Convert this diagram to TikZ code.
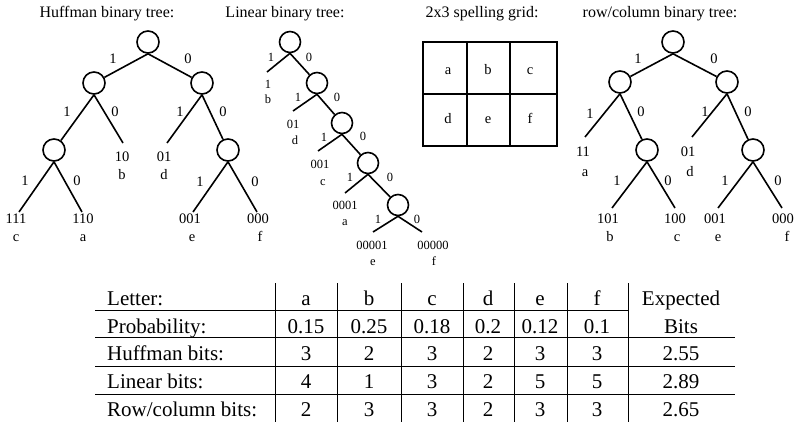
\documentclass[tikz,border=0pt]{standalone}
\usepackage{fontspec}
\setmainfont{Liberation Serif}
\begin{document}
\begin{tikzpicture}[x=1pt,y=-1pt,
  nd/.style={circle,draw,line width=1.6pt,minimum size=22pt,inner sep=0pt},
  snd/.style={nd,minimum size=21pt},
  lbl/.style={inner sep=0pt,text height=0.68em,text depth=0pt,font=\fontsize{14.5}{16}\selectfont},
  slbl/.style={inner sep=0pt,text height=0.68em,text depth=0pt,font=\fontsize{12.5}{14}\selectfont},
  ttl/.style={inner sep=0pt,font=\fontsize{16}{18}\selectfont},
  tb/.style={inner sep=0pt,anchor=base,font=\fontsize{21}{24}\selectfont},
  ed/.style={line width=1.6pt},
  tl/.style={line width=1pt}]
\useasboundingbox (0,0) rectangle (800,428);

% titles
\node[ttl] (t1) at (107,14) {Huffman binary tree:};
\node[ttl] (t2) at (285,14) {Linear binary tree:};
\node[ttl] (t3) at (482,14) {2x3 spelling grid:};
\node[ttl] (t4) at (660,14) {row/column binary tree:};

% ---------- Huffman tree
\node[nd] (h0) at (148,42) {};
\node[nd] (h1) at (94,83) {};
\node[nd] (h2) at (202,83) {};
\node[nd] (h11) at (54,150) {};
\node[nd] (h22) at (228,150) {};
\coordinate (hb) at (123,143);
\coordinate (hd) at (167,143);
\coordinate (hc) at (19,212);
\coordinate (ha) at (82,212);
\coordinate (he) at (193,212);
\coordinate (hf) at (257,212);
\draw[ed] (h0.south) -- (h1);
\draw[ed] (h0.south) -- (h2);
\draw[ed] (h1.south) -- (h11);
\draw[ed] (h1.south) -- (hb);
\draw[ed] (h2.south) -- (hd);
\draw[ed] (h2.south) -- (h22);
\draw[ed] (h11.south) -- (hc);
\draw[ed] (h11.south) -- (ha);
\draw[ed] (h22.south) -- (he);
\draw[ed] (h22.south) -- (hf);
\node[lbl] (he1) at (113,60) {1};
\node[lbl] (he2) at (188,60) {0};
\node[lbl] (he3) at (67,113) {1};
\node[lbl] (he4) at (115,113) {0};
\node[lbl] (he5) at (180,113) {1};
\node[lbl] (he6) at (223,113) {0};
\node[lbl] (he7) at (25,182) {1};
\node[lbl] (he8) at (77,182) {0};
\node[lbl] (he9) at (200,183) {1};
\node[lbl] (he10) at (255,183) {0};
\node[lbl] (hbc) at (122,158) {10};
\node[lbl] (hbl) at (122,176) {b};
\node[lbl] (hdc) at (164,158) {01};
\node[lbl] (hdl) at (164,176) {d};
\node[lbl] (hcc) at (16,220) {111};
\node[lbl] (hcl) at (16,238) {c};
\node[lbl] (hac) at (83,220) {110};
\node[lbl] (hal) at (83,238) {a};
\node[lbl] (hec) at (190,220) {001};
\node[lbl] (hel) at (192,238) {e};
\node[lbl] (hfc) at (258,220) {000};
\node[lbl] (hfl) at (260,238) {f};

% ---------- Linear tree
\node[snd] (l0) at (290,42) {};
\node[snd] (l1) at (317,83) {};
\node[snd] (l2) at (342,123) {};
\node[snd] (l3) at (368,163) {};
\node[snd] (l4) at (398,205) {};
\coordinate (lb) at (267,72);
\coordinate (ld) at (293,111);
\coordinate (lc) at (318,151);
\coordinate (la) at (345,193);
\coordinate (le) at (373,232);
\coordinate (lf) at (422,232);
\draw[ed] (l0.south) -- (lb);
\draw[ed] (l0.south) -- (l1);
\draw[ed] (l1.south) -- (ld);
\draw[ed] (l1.south) -- (l2);
\draw[ed] (l2.south) -- (lc);
\draw[ed] (l2.south) -- (l3);
\draw[ed] (l3.south) -- (la);
\draw[ed] (l3.south) -- (l4);
\draw[ed] (l4.south) -- (le);
\draw[ed] (l4.south) -- (lf);
\node[slbl] (le1) at (271,58) {1};
\node[slbl] (le2) at (309,58) {0};
\node[slbl] (le3) at (298,98) {1};
\node[slbl] (le4) at (337,98) {0};
\node[slbl] (le5) at (324,138) {1};
\node[slbl] (le6) at (363,137) {0};
\node[slbl] (le7) at (350,178) {1};
\node[slbl] (le8) at (390,178) {0};
\node[slbl] (le9) at (378,220) {1};
\node[slbl] (le10) at (417,220) {0};
\node[slbl] (lbc) at (268,85) {1};
\node[slbl] (lbl) at (268,100) {b};
\node[slbl] (ldc) at (293,125) {01};
\node[slbl] (ldl) at (295,141) {d};
\node[slbl] (lcc) at (320,165) {001};
\node[slbl] (lcl) at (323,182) {c};
\node[slbl] (lac) at (345,206) {0001};
\node[slbl] (lal) at (345,222) {a};
\node[slbl] (lec) at (372,246) {00001};
\node[slbl] (lel) at (373,262) {e};
\node[slbl] (lfc) at (433,246) {00000};
\node[slbl] (lfl) at (434,262) {f};

% ---------- Grid
\draw[ed] (423,42) rectangle (557,146);
\draw[ed] (467,42) -- (467,146);
\draw[ed] (510,42) -- (510,146);
\draw[ed] (423,94) -- (557,94);
\node[lbl] (ga) at (448,71) {a};
\node[lbl] (gb) at (488,71) {b};
\node[lbl] (gc) at (530,71) {c};
\node[lbl] (gd) at (448,120) {d};
\node[lbl] (ge) at (488,120) {e};
\node[lbl] (gf) at (530,120) {f};

% ---------- Row/column tree
\node[nd] (r0) at (673,42) {};
\node[nd] (r1) at (620,82) {};
\node[nd] (r2) at (727,82) {};
\node[nd] (r12) at (647,150) {};
\node[nd] (r22) at (753,150) {};
\coordinate (ra) at (585,137);
\coordinate (rd) at (692,137);
\coordinate (rb) at (612,208);
\coordinate (rc) at (675,208);
\coordinate (re) at (718,208);
\coordinate (rf) at (782,208);
\draw[ed] (r0.south) -- (r1);
\draw[ed] (r0.south) -- (r2);
\draw[ed] (r1.south) -- (ra);
\draw[ed] (r1.south) -- (r12);
\draw[ed] (r2.south) -- (rd);
\draw[ed] (r2.south) -- (r22);
\draw[ed] (r12.south) -- (rb);
\draw[ed] (r12.south) -- (rc);
\draw[ed] (r22.south) -- (re);
\draw[ed] (r22.south) -- (rf);
\node[lbl] (re1) at (638,60) {1};
\node[lbl] (re2) at (714,60) {0};
\node[lbl] (re3) at (590,115) {1};
\node[lbl] (re4) at (641,113) {0};
\node[lbl] (re5) at (705,113) {1};
\node[lbl] (re6) at (748,113) {0};
\node[lbl] (re7) at (617,182) {1};
\node[lbl] (re8) at (668,182) {0};
\node[lbl] (re9) at (725,182) {1};
\node[lbl] (re10) at (778,182) {0};
\node[lbl] (rac) at (583,153) {11};
\node[lbl] (ral) at (585,173) {a};
\node[lbl] (rdc) at (688,153) {01};
\node[lbl] (rdl) at (690,173) {d};
\node[lbl] (rbc) at (608,220) {101};
\node[lbl] (rbl) at (610,238) {b};
\node[lbl] (rcc) at (675,220) {100};
\node[lbl] (rcl) at (677,238) {c};
\node[lbl] (rec) at (715,220) {001};
\node[lbl] (rel) at (718,238) {e};
\node[lbl] (rfc) at (783,220) {000};
\node[lbl] (rfl) at (787,238) {f};

% ---------- Table
\foreach \x in {275,337,401,463,514,567,628}
  \draw[tl] (\x,283) -- (\x,422);
\draw[tl] (95,310) -- (628,310);
\foreach \y in {337,366,394}
  \draw[tl] (95,\y) -- (735,\y);
\node[tb,anchor=base west] (r1h) at (107,305) {Letter:};
\node[tb,anchor=base west] (r2h) at (107,333) {Probability:};
\node[tb,anchor=base west] (r3h) at (107,360) {Huffman bits:};
\node[tb,anchor=base west] (r4h) at (107,388) {Linear bits:};
\node[tb,anchor=base west] (r5h) at (107,416) {Row/column bits:};
\node[tb] (c1a) at (306,305) {a};
\node[tb] (c1b) at (369,305) {b};
\node[tb] (c1c) at (432,305) {c};
\node[tb] (c1d) at (488,305) {d};
\node[tb] (c1e) at (540,305) {e};
\node[tb] (c1f) at (597,305) {f};
\node[tb] (c1x) at (681,305) {Expected};
\node[tb] (c2a) at (306,333) {0.15};
\node[tb] (c2b) at (369,333) {0.25};
\node[tb] (c2c) at (432,333) {0.18};
\node[tb] (c2d) at (488,333) {0.2};
\node[tb] (c2e) at (540,333) {0.12};
\node[tb] (c2f) at (597,333) {0.1};
\node[tb] (c2x) at (681,333) {Bits};
\node[tb] (c3a) at (306,360) {3};
\node[tb] (c3b) at (369,360) {2};
\node[tb] (c3c) at (432,360) {3};
\node[tb] (c3d) at (488,360) {2};
\node[tb] (c3e) at (540,360) {3};
\node[tb] (c3f) at (597,360) {3};
\node[tb] (c3x) at (681,360) {2.55};
\node[tb] (c4a) at (306,388) {4};
\node[tb] (c4b) at (369,388) {1};
\node[tb] (c4c) at (432,388) {3};
\node[tb] (c4d) at (488,388) {2};
\node[tb] (c4e) at (540,388) {5};
\node[tb] (c4f) at (597,388) {5};
\node[tb] (c4x) at (681,388) {2.89};
\node[tb] (c5a) at (306,416) {2};
\node[tb] (c5b) at (369,416) {3};
\node[tb] (c5c) at (432,416) {3};
\node[tb] (c5d) at (488,416) {2};
\node[tb] (c5e) at (540,416) {3};
\node[tb] (c5f) at (597,416) {3};
\node[tb] (c5x) at (681,416) {2.65};
\end{tikzpicture}
\end{document}
